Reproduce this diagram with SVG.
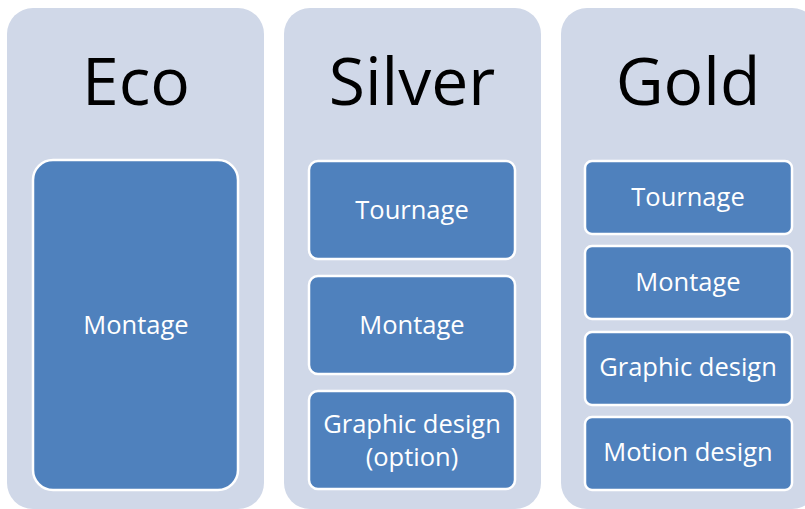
<svg xmlns="http://www.w3.org/2000/svg" width="805" height="509" viewBox="0 0 805 509">
<style>
.panel{fill:#D0D8E8}
.box{fill:#4F81BD;stroke:#FFFFFF;stroke-width:2.5}
.title{font-family:"Open Sans","Noto Sans",sans-serif;font-size:66px;fill:#000;text-anchor:middle}
.lbl{font-family:"Open Sans","Noto Sans",sans-serif;font-size:25.5px;fill:#FFFFFF;text-anchor:middle}
</style>
<rect width="805" height="509" fill="#FFFFFF"/>
<g id="eco">
<rect class="panel" x="7" y="8" width="257" height="501" rx="26"/>
<text class="title" x="136" y="105">Eco</text>
<g id="eco-montage">
<rect class="box" x="33" y="160" width="205" height="330" rx="20"/>
<text class="lbl" x="136" y="334">Montage</text>
</g>
</g>
<g id="silver">
<rect class="panel" x="284" y="8" width="257" height="501" rx="26"/>
<text class="title" x="412" y="105">Silver</text>
<g id="silver-tournage">
<rect class="box" x="309" y="161" width="206" height="98" rx="9"/>
<text class="lbl" x="412" y="219">Tournage</text>
</g>
<g id="silver-montage">
<rect class="box" x="309" y="276" width="206" height="98" rx="9"/>
<text class="lbl" x="412" y="334">Montage</text>
</g>
<g id="silver-graphic">
<rect class="box" x="309" y="391" width="206" height="98" rx="9"/>
<text class="lbl" x="412" y="433">Graphic design</text>
<text class="lbl" x="412" y="466">(option)</text>
</g>
</g>
<g id="gold">
<rect class="panel" x="561" y="8" width="257" height="501" rx="26"/>
<text class="title" x="688" y="105">Gold</text>
<g id="gold-tournage">
<rect class="box" x="585" y="161" width="207" height="73" rx="7"/>
<text class="lbl" x="688" y="206">Tournage</text>
</g>
<g id="gold-montage">
<rect class="box" x="585" y="246" width="207" height="73" rx="7"/>
<text class="lbl" x="688" y="291">Montage</text>
</g>
<g id="gold-graphic">
<rect class="box" x="585" y="332" width="207" height="73" rx="7"/>
<text class="lbl" x="688" y="376">Graphic design</text>
</g>
<g id="gold-motion">
<rect class="box" x="585" y="417" width="207" height="73" rx="7"/>
<text class="lbl" x="688" y="461">Motion design</text>
</g>
</g>
<g id="connectors"/>
</svg>
